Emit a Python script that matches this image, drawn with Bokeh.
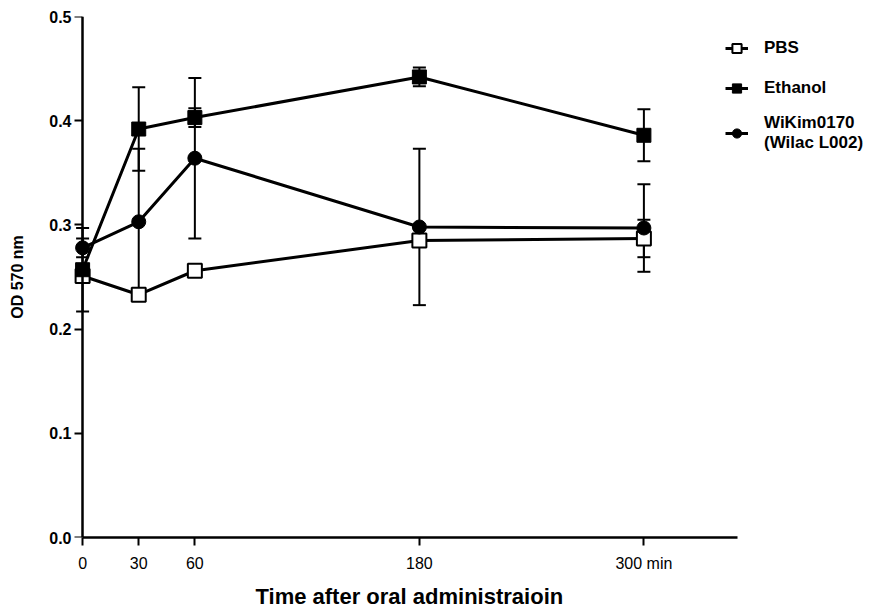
from bokeh.plotting import figure
from bokeh.models import (Range1d, LinearAxis, FixedTicker, Whisker, TeeHead, Title,
                          ColumnDataSource, Legend, LegendItem, CustomJSTickFormatter)
from bokeh.embed import file_html
from bokeh.resources import INLINE

# ---- data ----
time = [0, 30, 60, 180, 300]
x_ticks = [0, 30, 60, 180, 300]
x_tick_labels = ["0", "30", "60", "180", "300 min"]
y_ticks = [0.0, 0.1, 0.2, 0.3, 0.4, 0.5]

pbs = [0.251, 0.233, 0.256, 0.285, 0.287]
pbs_sd = [0.006, 0.005, 0.005, 0.006, 0.018]
ethanol = [0.257, 0.392, 0.403, 0.442, 0.386]
ethanol_sd = [0.040, 0.040, 0.009, 0.009, 0.025]
wikim = [0.278, 0.303, 0.364, 0.298, 0.297]
wikim_sd = [0.009, 0.070, 0.077, 0.075, 0.042]

series_names = ["PBS", "Ethanol", "WiKim0170\n(Wilac L002)"]
x_title = "Time after oral administraioin"
y_title = "OD 570 nm"

FONT = "'Liberation Sans', Arial, sans-serif"

# frame runs on to the right edge so that the legend (drawn in the frame) is not clipped;
# the x axis line itself is bounded to 0..350
p = figure(width=885, height=615, output_backend="svg", toolbar_location=None,
           x_range=Range1d(-5.4, 428.6), y_range=Range1d(0, 0.5),
           x_axis_location=None, y_axis_location=None,
           min_border_left=72, min_border_right=1,
           min_border_top=16, min_border_bottom=77)
p.outline_line_color = None
p.background_fill_color = "white"
p.border_fill_color = "white"
for g in p.grid:
    g.visible = False

# x axis
xa = LinearAxis(ticker=FixedTicker(ticks=x_ticks), bounds=(0, 350))
xa.major_label_overrides = {t: lab for t, lab in zip(x_ticks, x_tick_labels)}
xa.major_label_text_font = FONT
xa.major_label_text_font_size = "16px"
xa.major_label_text_color = "black"
xa.major_label_standoff = 9
xa.axis_line_width = 2.5
xa.axis_line_color = "black"
xa.major_tick_line_width = 2
xa.major_tick_line_color = "black"
xa.major_tick_out = 8
xa.major_tick_in = 0
xa.minor_tick_out = 0
xa.minor_tick_in = 0
p.add_layout(xa, "below")

# x axis title, centred under the axis line (not under the wider frame)
xt = Title(text=x_title, align="left", offset=183, standoff=14,
           text_font=FONT, text_font_style="bold", text_font_size="22px",
           text_color="black")
p.add_layout(xt, "below")

# y axis: labels + title (at the frame edge, no line/ticks)
ya = LinearAxis(ticker=FixedTicker(ticks=y_ticks))
ya.formatter = CustomJSTickFormatter(code="return tick.toFixed(1);")
ya.axis_label = y_title
ya.axis_label_text_font = FONT
ya.axis_label_text_font_style = "bold"
ya.axis_label_text_font_size = "16px"
ya.axis_label_text_color = "black"
ya.axis_label_standoff = 20
ya.major_label_text_font = FONT
ya.major_label_text_font_style = "bold"
ya.major_label_text_font_size = "16px"
ya.major_label_text_color = "black"
ya.major_label_standoff = 1
ya.axis_line_color = None
ya.major_tick_line_color = None
ya.major_tick_out = 0
ya.major_tick_in = 0
ya.minor_tick_out = 0
ya.minor_tick_in = 0
p.add_layout(ya, "left")

# y axis line and ticks, drawn at x = 0
ya2 = LinearAxis(ticker=FixedTicker(ticks=y_ticks), fixed_location=0, bounds=(0, 0.5))
ya2.formatter = CustomJSTickFormatter(code="return '';")
ya2.major_label_standoff = 0
ya2.axis_line_width = 2.5
ya2.axis_line_color = "black"
ya2.major_tick_line_width = 2
ya2.major_tick_line_color = "black"
ya2.major_tick_out = 8
ya2.major_tick_in = 0
ya2.minor_tick_out = 0
ya2.minor_tick_in = 0
p.add_layout(ya2, "left")

# sources
def make_src(mean, sd):
    return ColumnDataSource(dict(
        x=time, y=mean,
        upper=[m + s for m, s in zip(mean, sd)],
        lower=[m - s for m, s in zip(mean, sd)]))

srcs = [make_src(pbs, pbs_sd), make_src(ethanol, ethanol_sd), make_src(wikim, wikim_sd)]

# error bars
for s in srcs:
    w = Whisker(source=s, base="x", upper="upper", lower="lower",
                line_color="black", line_width=2,
                upper_head=TeeHead(size=13, line_width=2, line_color="black"),
                lower_head=TeeHead(size=13, line_width=2, line_color="black"))
    p.add_layout(w)

# lines
lines = [p.line("x", "y", source=s, line_color="black", line_width=3) for s in srcs]

# markers
m_pbs = p.scatter("x", "y", source=srcs[0], marker="square", size=14,
                  fill_color="white", line_color="black", line_width=2)
m_eth = p.scatter("x", "y", source=srcs[1], marker="square", size=14,
                  fill_color="black", line_color="black", line_width=1)
m_wik = p.scatter("x", "y", source=srcs[2], marker="circle", size=14,
                  fill_color="black", line_color="black", line_width=1)
markers = [m_pbs, m_eth, m_wik]

items = [LegendItem(label=n, renderers=[l, m]) for n, l, m in zip(series_names, lines, markers)]
legend = Legend(items=items, location=(653, 384), padding=0, margin=0,
                border_line_color=None, background_fill_alpha=0,
                glyph_width=23, glyph_height=30, label_height=30,
                spacing=10, label_standoff=16,
                label_text_font=FONT, label_text_font_style="bold",
                label_text_font_size="17px", label_text_color="black")
p.add_layout(legend, "center")

open("out.html", "w").write(file_html(p, INLINE))
